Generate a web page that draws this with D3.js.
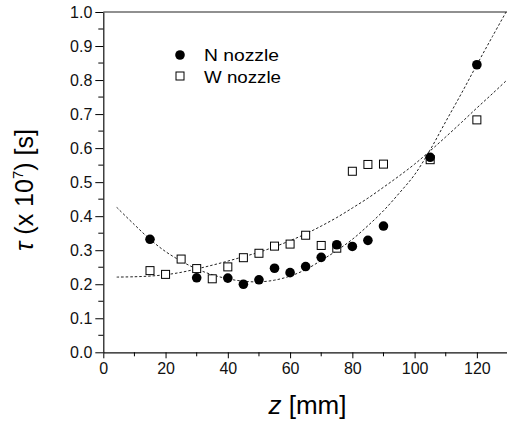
<!DOCTYPE html>
<html>
<head>
<meta charset="utf-8">
<script src="https://cdn.jsdelivr.net/npm/d3@7"></script>
<style>
    body { margin: 0; background: #fff; }
    svg { display: block; font-family: "Liberation Sans", Arial, sans-serif; }
</style>
</head>
<body>
<svg id="chart" width="507" height="423"></svg>
<script>
// Measured points (z in mm, tau in 1e-7 s)
const zN = [15, 30, 40, 45, 50, 55, 60, 65, 70, 75, 80, 85, 90, 105, 120];
const tauN = [0.332, 0.219, 0.218, 0.200, 0.213, 0.247, 0.234, 0.252, 0.279, 0.316, 0.311, 0.329, 0.371, 0.573, 0.845];

const zW = [15, 20, 25, 30, 35, 40, 45, 50, 55, 60, 65, 70, 75, 80, 85, 90, 105, 120];
const tauW = [0.240, 0.229, 0.274, 0.246, 0.216, 0.251, 0.278, 0.291, 0.312, 0.318, 0.344, 0.314, 0.306, 0.532, 0.552, 0.553, 0.566, 0.683];

// Fit curves
const zFit = [4.3, 10, 15, 20, 25, 30, 35, 40, 45, 50, 55, 60, 65, 70, 75, 80, 85, 90, 95, 100, 105, 110, 115, 120, 125, 130];
const fitN = [0.426, 0.375, 0.332, 0.296, 0.268, 0.245, 0.228, 0.216, 0.209, 0.207, 0.212, 0.224, 0.243, 0.270, 0.299, 0.332, 0.372, 0.416, 0.467, 0.522, 0.595, 0.678, 0.760, 0.845, 0.928, 1.010];
const fitW = [0.221, 0.222, 0.224, 0.228, 0.235, 0.245, 0.256, 0.268, 0.281, 0.294, 0.310, 0.328, 0.348, 0.371, 0.396, 0.424, 0.453, 0.485, 0.518, 0.553, 0.592, 0.633, 0.675, 0.718, 0.760, 0.803];

const xTicks = [0, 20, 40, 60, 80, 100, 120];
const yTicks = [0.0, 0.1, 0.2, 0.3, 0.4, 0.5, 0.6, 0.7, 0.8, 0.9, 1.0];

const svg = d3.select("#chart");
const margin = { top: 12, left: 103.3 };
const plotRight = 508;
const plotBottom = 352.3;

// Scales
const x = d3.scaleLinear().domain([0, 130]).range([margin.left, plotRight]);
const y = d3.scaleLinear().domain([0, 1]).range([plotBottom, margin.top]);

// Clip for the fit lines
svg.append("clipPath").attr("id", "clip")
    .append("rect")
    .attr("x", margin.left).attr("y", margin.top)
    .attr("width", plotRight - margin.left).attr("height", plotBottom - margin.top);

// Frame (top and right)
svg.append("path")
    .attr("d", `M${margin.left},${margin.top}H${plotRight}V${plotBottom}`)
    .attr("fill", "none")
    .attr("stroke", "#222")
    .attr("stroke-width", 1.2);

// X axis
const xAxis = svg.append("g")
    .attr("transform", `translate(0, ${plotBottom})`)
    .call(d3.axisBottom(x).tickValues(xTicks).tickFormat(d3.format("d")).tickSize(6).tickPadding(4).tickSizeOuter(0));
xAxis.append("g").selectAll("line")
    .data(d3.range(10, 130, 20))
    .enter().append("line")
    .attr("x1", d => x(d)).attr("x2", d => x(d))
    .attr("y1", 0).attr("y2", 4)
    .attr("stroke", "#000");

// Y axis
const yAxis = svg.append("g")
    .attr("transform", `translate(${margin.left}, 0)`)
    .call(d3.axisLeft(y).tickValues(yTicks).tickFormat(d3.format(".1f")).tickSize(8).tickPadding(3).tickSizeOuter(0));
yAxis.append("g").selectAll("line")
    .data(d3.range(0.05, 1, 0.1))
    .enter().append("line")
    .attr("x1", 0).attr("x2", -5)
    .attr("y1", d => y(d)).attr("y2", d => y(d))
    .attr("stroke", "#000");

svg.selectAll(".tick text")
    .attr("font-size", "16px")
    .attr("font-family", "Liberation Sans, Arial, sans-serif")
    .attr("fill", "#111");
svg.selectAll(".domain").attr("stroke", "#111").attr("stroke-width", 1.2);

// Fit lines
const line = d3.line()
    .x(d => x(d[0]))
    .y(d => y(d[1]))
    .curve(d3.curveCatmullRom);

[fitN, fitW].forEach(vals => {
    svg.append("path")
        .datum(zFit.map((z, i) => [z, vals[i]]))
        .attr("clip-path", "url(#clip)")
        .attr("d", line)
        .attr("fill", "none")
        .attr("stroke", "#222")
        .attr("stroke-width", 1)
        .attr("stroke-dasharray", "2.5,2");
});

// W nozzle squares
const sq = 8;
svg.selectAll(".w")
    .data(zW.map((z, i) => [z, tauW[i]]))
    .enter().append("rect")
    .attr("class", "w")
    .attr("x", d => x(d[0]) - sq / 2)
    .attr("y", d => y(d[1]) - sq / 2)
    .attr("width", sq).attr("height", sq)
    .attr("fill", "#fff")
    .attr("stroke", "#000")
    .attr("stroke-width", 1);

// N nozzle circles
svg.selectAll(".n")
    .data(zN.map((z, i) => [z, tauN[i]]))
    .enter().append("circle")
    .attr("class", "n")
    .attr("cx", d => x(d[0]))
    .attr("cy", d => y(d[1]))
    .attr("r", 4.8)
    .attr("fill", "#000");

// Legend
svg.append("circle").attr("cx", 180).attr("cy", 55).attr("r", 4.8).attr("fill", "#000");
svg.append("rect").attr("x", 176).attr("y", 72).attr("width", sq).attr("height", sq)
    .attr("fill", "#fff").attr("stroke", "#000");
svg.append("text").attr("x", 204).attr("y", 61).attr("font-size", "16px")
    .attr("textLength", 75).attr("lengthAdjust", "spacingAndGlyphs").text("N nozzle");
svg.append("text").attr("x", 204).attr("y", 82.5).attr("font-size", "16px")
    .attr("textLength", 77).attr("lengthAdjust", "spacingAndGlyphs").text("W nozzle");

// Axis titles
const xt = svg.append("text")
    .attr("x", 307.5)
    .attr("y", 414)
    .attr("text-anchor", "middle")
    .attr("font-size", "26px");
xt.append("tspan").attr("font-style", "italic").text("z");
xt.append("tspan").text(" [mm]");

const yt = svg.append("text")
    .attr("transform", `translate(33, 190) rotate(-90)`)
    .attr("text-anchor", "middle")
    .attr("font-size", "25px");
yt.append("tspan").attr("font-style", "italic").text("τ");
yt.append("tspan").text(" (x 10");
yt.append("tspan").attr("dy", -10).attr("font-size", "15px").text("7");
yt.append("tspan").attr("dy", 10).text(") [s]");
</script>
</body>
</html>
